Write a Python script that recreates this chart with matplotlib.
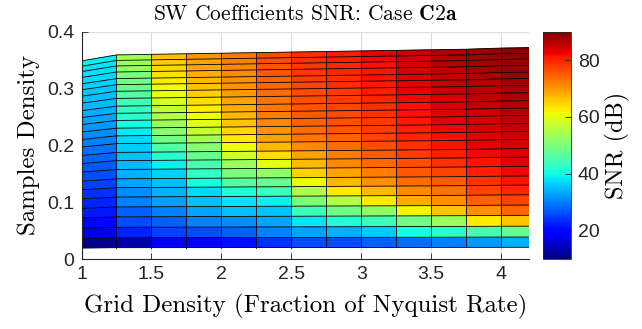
import numpy as np
import matplotlib
matplotlib.use('Agg')
import matplotlib.pyplot as plt

plt.rcParams['mathtext.fontset'] = 'cm'
plt.rcParams['axes.unicode_minus'] = False

# grid density (vertex columns of the surface)
grid_density = [1.0, 1.25, 1.5, 1.75, 2.0, 2.25, 2.5, 2.75, 3.0, 3.25, 3.5, 3.75, 4.0, 4.25]
# top samples density reached in each vertex column
col_top = [0.3485, 0.359, 0.360, 0.361, 0.362, 0.363, 0.364, 0.365, 0.366, 0.367,
           0.368, 0.369, 0.371, 0.372]
# samples density edges read along the x = 4 column (bottom -> top)
row_edges = [0.021, 0.039, 0.058, 0.077, 0.095, 0.113, 0.130, 0.146, 0.163, 0.179,
             0.194, 0.210, 0.224, 0.238, 0.252, 0.265, 0.278, 0.292, 0.305, 0.317,
             0.328, 0.340, 0.351, 0.361, 0.371]

# SNR in dB, one list per grid-density cell (bottom row -> top row)
snr_cols = [
    [11, 18, 20.5, 22, 23, 24, 25, 26, 27, 28, 29, 30, 31, 32, 33, 33.5, 34.5, 35, 35.5, 36.5, 37, 37.5, 38, 39],
    [13, 22.5, 26, 27.5, 30, 31, 33, 34, 34.5, 35, 36, 37, 38.5, 40, 42, 43, 44, 46, 48, 49, 50, 52, 53, 54],
    [18.5, 25, 27.5, 30, 32.5, 34, 35, 36.5, 39, 42, 46, 49, 51, 53, 55, 57, 59, 60.5, 61.5, 62.5, 63.5, 64.5, 65.5, 66.5],
    [20, 26, 30, 32.5, 35, 37, 40, 43, 45, 48, 51, 54, 57, 59.5, 61, 62.5, 64, 65, 66, 67, 68, 68.5, 69, 70],
    [21, 27.5, 31, 35, 38, 41.5, 46, 50, 53, 58, 61, 63, 64.5, 66, 67, 68, 69, 69.5, 70, 70.5, 71, 71.5, 72, 72.5],
    [24, 30, 33, 35.5, 39, 44, 48, 52, 60, 64, 67, 69, 70, 71, 72, 72.5, 73, 73.5, 74, 74.5, 75, 75.5, 76, 76.5],
    [26, 33, 38, 44, 50, 55, 61, 65, 67, 69, 71, 72.5, 73.5, 74.5, 75, 75.5, 76, 76.5, 77, 77.5, 78, 78, 78.5, 79],
    [26, 34, 41.5, 49, 55, 63, 67, 69, 71, 72, 73.5, 74.5, 75.5, 76, 76.5, 77, 77.5, 78, 78.5, 79, 79.5, 79.5, 80, 80.5],
    [27.5, 36, 44, 52, 63, 67, 70.5, 72, 74, 75, 76, 77, 77.5, 78, 78.5, 79, 79.5, 80, 80.5, 81, 81, 81.5, 82, 82.5],
    [28.5, 40, 49, 62, 68, 71, 73.5, 75, 76, 77.5, 78.5, 79.5, 80, 80.5, 81, 81.5, 82, 82.5, 83, 83, 83.5, 84, 84, 84.5],
    [30, 42, 53, 66, 70.5, 73, 75, 77, 78.5, 80, 81, 81.5, 82, 82.5, 83, 83.5, 84, 84.5, 85, 85, 85.5, 86, 86, 86.5],
    [32, 44.5, 63, 70.5, 74.5, 77, 78.5, 80, 81, 82, 82.5, 83, 83.5, 84, 84.5, 85, 85.5, 86, 86.5, 86.5, 87, 87.5, 87.5, 88],
    [34, 48, 66, 74, 77, 79.5, 81, 82, 83, 83.5, 84, 84.5, 85, 85.5, 86, 86.5, 87, 87, 87.5, 88, 88, 88.5, 88.5, 89],
]

x_ticks = [1, 1.5, 2, 2.5, 3, 3.5, 4]
x_tick_labels = ['1', '1.5', '2', '2.5', '3', '3.5', '4']
y_ticks = [0, 0.1, 0.2, 0.3, 0.4]
y_tick_labels = ['0', '0.1', '0.2', '0.3', '0.4']
cb_ticks = [20, 40, 60, 80]

# vertex mesh: each column of rows scaled to that column's top
scale = np.array(col_top) / row_edges[-1]
Y = np.outer(row_edges, scale)
X = np.tile(grid_density, (len(row_edges), 1))
C = np.array(snr_cols).T

fig = plt.figure(figsize=(6.42, 3.29), dpi=100)
ax = fig.add_axes([0.127, 0.212, 0.697, 0.692])

# cells filled without edges, grid lines drawn on top as plain lines
mesh = ax.pcolor(X, Y, C, cmap='jet', vmin=10, vmax=90, edgecolors='face',
                 linewidth=0.3, antialiased=True, zorder=2)
ax.plot(X, Y, color='k', linewidth=0.6, zorder=3)
ax.plot(X.T, Y.T, color='k', linewidth=0.6, zorder=3)

ax.set_xlim(1, 4.2)
ax.set_ylim(0, 0.4)
ax.set_xticks(x_ticks)
ax.set_xticklabels(x_tick_labels)
ax.set_yticks(y_ticks)
ax.set_yticklabels(y_tick_labels)
ax.grid(True, color='#dcdcdc', linewidth=0.8, zorder=0)
ax.set_axisbelow(True)
ax.tick_params(direction='in', length=4, width=0.6, color='#262626',
               labelsize=14, pad=5)
for lab in ax.get_xticklabels() + ax.get_yticklabels():
    lab.set_family('Liberation Sans')
    lab.set_color('#262626')
ax.spines['top'].set_visible(False)
ax.spines['right'].set_visible(False)
ax.spines['left'].set_color('#262626')
ax.spines['bottom'].set_color('#262626')
ax.spines['left'].set_zorder(4)
ax.spines['bottom'].set_zorder(4)

ax.set_xlabel('Grid Density (Fraction of Nyquist Rate)', family='cmr10',
              fontsize=17.9, labelpad=8)
ax.set_ylabel('Samples Density', family='cmr10', fontsize=17.9, labelpad=5)
ax.set_title(r'SW Coefficients SNR: Case $\mathbf{C2a}$', family='cmr10',
             fontsize=15.5, pad=8)

cax = fig.add_axes([0.846, 0.212, 0.043, 0.692])
cb = fig.colorbar(mesh, cax=cax, ticks=cb_ticks)
cb.outline.set_edgecolor('#262626')
cb.outline.set_linewidth(0.6)
cax.tick_params(direction='in', length=4, width=0.6, color='#262626',
                labelsize=14, pad=5)
for lab in cax.get_yticklabels():
    lab.set_family('Liberation Sans')
    lab.set_color('#262626')
cb.set_label('SNR (dB)', family='cmr10', fontsize=17.5, labelpad=4)

fig.savefig('out.png', dpi=100)
